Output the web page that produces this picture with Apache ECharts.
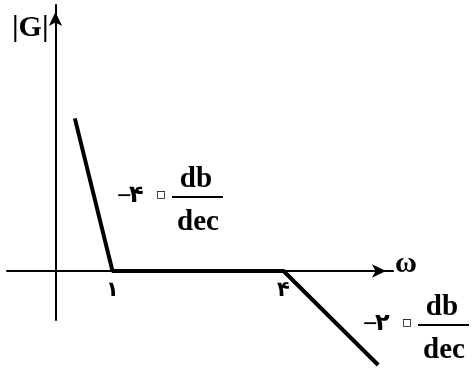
<!DOCTYPE html>
<html lang="fa">
  <head>
    <meta charset="UTF-8" />
    <title>|G| asymptotic plot</title>
    <script src="https://cdn.jsdelivr.net/npm/echarts@6/dist/echarts.min.js"></script>
    <style>
      html, body { margin: 0; padding: 0; background: #fff; }
      #chart { width: 472px; height: 368px; }
    </style>
  </head>
  <body>
    <div id="chart"></div>
    <script>
      // breakpoints of the asymptote (sketch units: x = position on the ω axis)
      const curveX = [0.34, 1, 4, 5.66];
      const curveY = [2.68, 0, 0, -1.65];
      // tick labels on the ω axis
      const tickValues = [1, 4];
      const tickLabels = ["۱", "۴"];
      // slope annotations
      const slopeDigits = [["۴", "۰"], ["۲", "۰"]];
      const slopeUnit = ["db", "dec"];

      const chart = echarts.init(document.getElementById("chart"));
      const serif = "'Liberation Serif', 'DejaVu Serif', serif";
      const digitFont = "'DejaVu Sans', sans-serif";

      // one slope label: "−" + digits, then db over dec
      function slopeLabel(x, y, digits) {
        return [
          { type: "text", x: x, y: y, style: { text: "−", font: "bold 26px " + serif, fill: "#000", align: "left", verticalAlign: "middle" } },
          { type: "text", x: x + 12, y: y - 1, style: { text: digits[0], font: "bold 24px " + digitFont, fill: "#000", align: "left", verticalAlign: "middle" } },
          // persian zero drawn hollow, as in the picture
          { type: "text", x: x + 33, y: y - 1, style: { text: digits[1], font: "bold 36px " + digitFont, fill: "#fff", stroke: "#000", lineWidth: 1.5, lineJoin: "round", align: "left", verticalAlign: "middle" } },
          { type: "line", shape: { x1: x + 55, y1: y, x2: x + 106, y2: y }, style: { stroke: "#000", lineWidth: 2 } },
          { type: "text", x: x + 79, y: y - 17, style: { text: slopeUnit[0], font: "bold 29px " + serif, fill: "#000", align: "center", verticalAlign: "middle" } },
          { type: "text", x: x + 81, y: y + 26, style: { text: slopeUnit[1], font: "bold 29px " + serif, fill: "#000", align: "center", verticalAlign: "middle" } }
        ];
      }

      const option = {
        animation: false,
        grid: { left: 7, top: 5, width: 386, height: 315 },
        xAxis: {
          type: "value",
          min: -0.85,
          max: 5.92,
          splitLine: { show: false },
          axisTick: { show: false },
          axisLine: {
            onZero: true,
            symbol: ["none", "arrow"],
            symbolSize: [10, 14],
            symbolOffset: [0, -7],
            lineStyle: { color: "#000", width: 2 }
          },
          axisLabel: {
            show: true,
            // labels stay at the grid bottom, pull them up under the zero line
            margin: -40,
            color: "#000",
            fontFamily: digitFont,
            fontWeight: "bold",
            fontSize: 21,
            customValues: tickValues,
            formatter: function (v) {
              const i = tickValues.indexOf(v);
              return i >= 0 ? tickLabels[i] : "";
            }
          }
        },
        yAxis: {
          type: "value",
          min: -0.86,
          max: 4.67,
          splitLine: { show: false },
          axisTick: { show: false },
          axisLabel: { show: false },
          axisLine: {
            onZero: true,
            symbol: ["none", "arrow"],
            symbolSize: [10, 14],
            symbolOffset: [0, -7],
            lineStyle: { color: "#000", width: 2 }
          }
        },
        series: [
          {
            type: "line",
            clip: false,
            showSymbol: false,
            symbol: "none",
            lineStyle: { color: "#000", width: 4 },
            data: curveX.map((x, i) => [x, curveY[i]])
          }
        ],
        graphic: [
          { type: "text", x: 12, y: 28, style: { text: "|G|", font: "bold 30px " + serif, fill: "#000", align: "left", verticalAlign: "middle" } },
          { type: "text", x: 395, y: 264, style: { text: "ω", font: "bold 30px " + serif, fill: "#000", align: "left", verticalAlign: "middle" } }
        ]
          .concat(slopeLabel(117, 197, slopeDigits[0]))
          .concat(slopeLabel(363, 325, slopeDigits[1]))
      };

      chart.setOption(option);
    </script>
  </body>
</html>
